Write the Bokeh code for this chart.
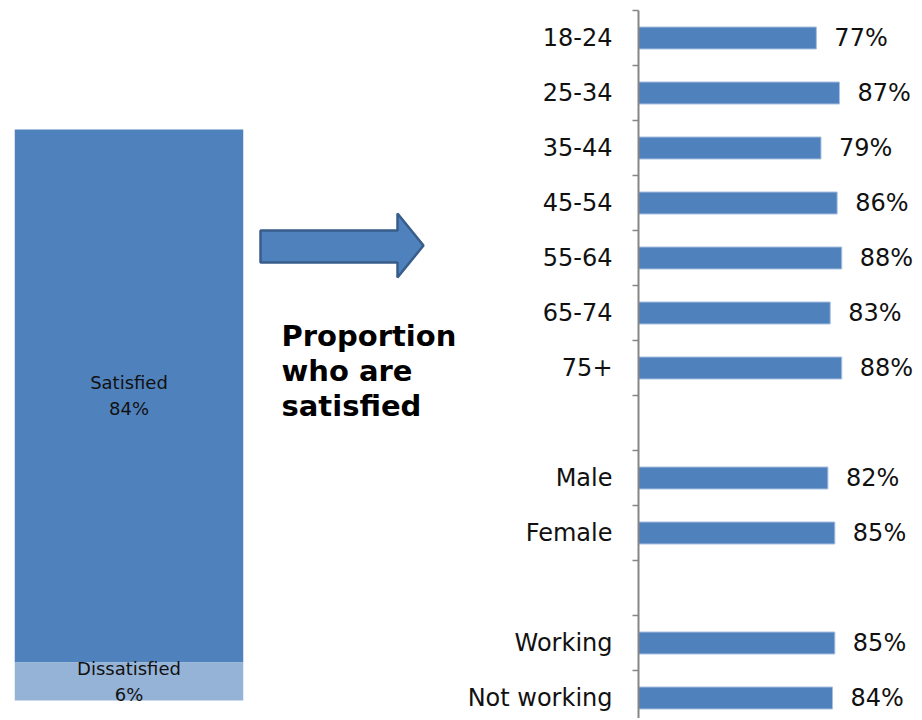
from bokeh.plotting import figure
from bokeh.layouts import row
from bokeh.models import Range1d, FixedTicker, ColumnDataSource
from bokeh.core.properties import value
from bokeh.embed import file_html
from bokeh.resources import INLINE

# ---------------- data ----------------
overall_labels = ["Satisfied", "Dissatisfied"]
overall_values = [84, 6]
overall_colors = ["#4F81BD", "#95B3D7"]

age_groups = ["18-24", "25-34", "35-44", "45-54", "55-64", "65-74", "75+"]
age_values = [77, 87, 79, 86, 88, 83, 88]
gender_groups = ["Male", "Female"]
gender_values = [82, 85]
work_groups = ["Working", "Not working"]
work_values = [85, 84]

title_lines = ["Proportion", "who are", "satisfied"]

FONT = "DejaVu Sans"
TXT = "#111111"
H = 718
TOP = 10  # common frame top (frames are aligned across the row)

# ---------------- left stacked bar ----------------
PX_PER_PCT = 6.344
y0 = -18 / PX_PER_PCT
left = figure(width=258, height=H, output_backend="svg", toolbar_location=None,
              x_range=Range1d(-0.5, 0.5), y_range=Range1d(y0, y0 + (H - TOP) / PX_PER_PCT),
              min_border_left=14, min_border_right=15, min_border_top=TOP, min_border_bottom=0,
              x_axis_location=None, y_axis_location=None)
left.outline_line_color = None
left.grid.visible = False
bottoms, tops, mids = [], [], []
acc = 0
for v in overall_values[::-1]:
    bottoms.append(acc); tops.append(acc + v); mids.append(acc + v / 2); acc += v
bottoms, tops, mids = bottoms[::-1], tops[::-1], mids[::-1]
src_l = ColumnDataSource(dict(x=[0] * len(overall_values), bottom=bottoms, top=tops, mid=mids,
                              color=overall_colors, lab=overall_labels,
                              pct=[f"{v}%" for v in overall_values]))
left.vbar(x="x", bottom="bottom", top="top", width=1, fill_color="color", line_color=None, source=src_l)
left.text(x="x", y="mid", text="lab", y_offset=-13, text_align="center", text_baseline="middle",
          text_font=value(FONT), text_font_size="18px", text_color=TXT, source=src_l)
left.text(x="x", y="mid", text="pct", y_offset=13, text_align="center", text_baseline="middle",
          text_font=value(FONT), text_font_size="18px", text_color=TXT, source=src_l)

# ---------------- middle: arrow + caption ----------------
MW = 202
mid = figure(width=MW, height=H, output_backend="svg", toolbar_location=None,
             x_range=Range1d(0, MW), y_range=Range1d(H, TOP),
             min_border_left=0, min_border_right=0, min_border_top=TOP, min_border_bottom=0,
             x_axis_location=None, y_axis_location=None)
mid.outline_line_color = None
mid.grid.visible = False
mid.patch(x=[2, 139, 139, 165, 139, 139, 2], y=[230, 230, 213, 245, 277, 262, 262],
          fill_color="#4F81BD", line_color="#385D8A", line_width=2.5)
mid.text(x=[23] * 3, y=[335, 370, 405], text=title_lines, text_align="left",
         text_baseline="middle", text_font=value(FONT), text_font_style="bold",
         text_font_size="29px", text_color="#000000")

# ---------------- right: horizontal bars ----------------
groups = [age_groups, gender_groups, work_groups]
gvals = [age_values, gender_values, work_values]
cats, vals, pos = [], [], []
slot = 0
for gi, (g, gv) in enumerate(zip(groups, gvals)):
    if gi > 0:
        slot += 1  # blank separator slot
    for c, v in zip(g, gv):
        cats.append(c); vals.append(v); pos.append(slot); slot += 1
n_slots = slot
boundaries = [i - 0.5 for i in range(n_slots + 1)]

RW = 920 - 258 - MW
SLOT_PX = 55
right = figure(width=RW, height=H, output_backend="svg", toolbar_location=None,
               x_range=Range1d(0, (RW - 178) / 2.31),
               y_range=Range1d(-0.5 + (H - TOP) / SLOT_PX, -0.5),
               min_border_left=178, min_border_right=0, min_border_top=TOP, min_border_bottom=0,
               x_axis_location=None)
right.outline_line_color = None
right.grid.visible = False
src_r = ColumnDataSource(dict(y=pos, v=vals, lab=[f"{v}%" for v in vals]))
right.hbar(y="y", left=0, right="v", height=0.4, fill_color="#4F81BD",
           line_color="#A9C0E0", line_width=1, source=src_r)
right.text(x="v", y="y", text="lab", x_offset=18, text_align="left", text_baseline="middle",
           text_font=value(FONT), text_font_size="24px", text_color=TXT, source=src_r)
ax = right.yaxis[0]
ax.ticker = FixedTicker(ticks=pos, minor_ticks=boundaries)
ax.major_label_overrides = {p: c for p, c in zip(pos, cats)}
ax.major_tick_out = 0
ax.major_tick_in = 0
ax.minor_tick_out = 6
ax.minor_tick_in = 0
ax.minor_tick_line_color = "#868686"
ax.minor_tick_line_width = 1.5
ax.axis_line_color = "#868686"
ax.axis_line_width = 2
ax.major_label_standoff = 20
ax.major_label_text_font = FONT
ax.major_label_text_font_size = "24px"
ax.major_label_text_color = TXT

layout = row(left, mid, right, spacing=0)
open("out.html", "w").write(file_html(layout, INLINE))
